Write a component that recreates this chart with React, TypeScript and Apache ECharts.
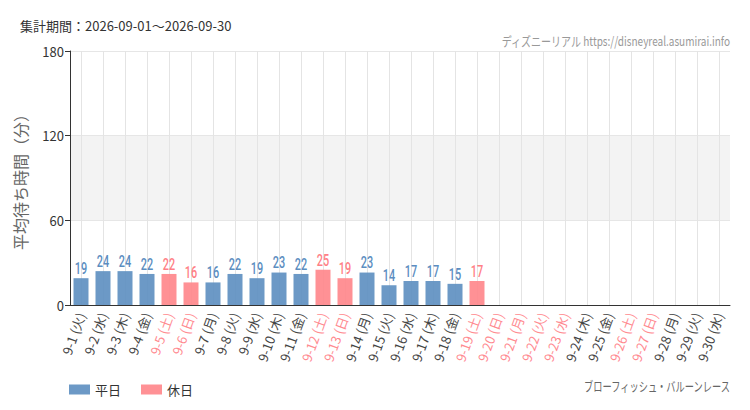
import React, { useEffect, useRef } from "react";
import * as echarts from "echarts";

// 2026年9月 各日
const days = [
  "9-1", "9-2", "9-3", "9-4", "9-5", "9-6", "9-7", "9-8", "9-9", "9-10",
  "9-11", "9-12", "9-13", "9-14", "9-15", "9-16", "9-17", "9-18", "9-19", "9-20",
  "9-21", "9-22", "9-23", "9-24", "9-25", "9-26", "9-27", "9-28", "9-29", "9-30",
];
const weekdays = [
  "火", "水", "木", "金", "土", "日", "月", "火", "水", "木",
  "金", "土", "日", "月", "火", "水", "木", "金", "土", "日",
  "月", "火", "水", "木", "金", "土", "日", "月", "火", "水",
];
// true = 休日 (土日祝)
const holidays = [
  false, false, false, false, true, true, false, false, false, false,
  false, true, true, false, false, false, false, false, true, true,
  true, true, true, false, false, true, true, false, false, false,
];
// 平均待ち時間（分）、未集計は null
const waitTimes: (number | null)[] = [
  19, 24, 24, 22, 22, 16, 16, 22, 19, 23,
  22, 25, 19, 23, 14, 17, 17, 15, 17, null,
  null, null, null, null, null, null, null, null, null, null,
];
const yTicks = [0, 60, 120, 180];

const BLUE = "#5c8ec0";
const PINK = "#ff858a";
const BLUE_TXT = "#5b8dc0";
const PINK_TXT = "#ff7f86";
const JP = "'Noto Sans CJK JP', 'Noto Sans', sans-serif";

const App: React.FC = () => {
  const chartRef = useRef<HTMLDivElement>(null);

  useEffect(() => {
    document.body.style.margin = "0";
    if (!chartRef.current) return;
    const chart = echarts.init(chartRef.current, undefined, { renderer: "svg" });

    const categories = days.map((d, i) => `${d} (${weekdays[i]})`);
    const weekdayData = waitTimes.map((v, i) => (holidays[i] ? null : v));
    const holidayData = waitTimes.map((v, i) => (holidays[i] ? v : null));
    const labelData = waitTimes
      .map((v, i) => [i, v])
      .filter((d) => d[1] !== null);

    const option: echarts.EChartsOption = {
      animation: false,
      backgroundColor: "#ffffff",
      textStyle: { fontFamily: JP },
      grid: { left: 70, right: 20, top: 51, bottom: 105 },
      graphic: [
        {
          type: "text",
          left: 20,
          top: 19,
          style: {
            text: "集計期間：2026-09-01～2026-09-30",
            fill: "#333",
            font: `13px ${JP}`,
          },
        },
        {
          type: "text",
          x: 730,
          y: 40,
          scaleX: 0.77,
          style: {
            text: "ディズニーリアル https://disneyreal.asumirai.info",
            fill: "#999",
            font: `13px ${JP}`,
            textAlign: "right",
            textVerticalAlign: "middle",
          } as any,
        },
        {
          type: "text",
          x: 730,
          y: 385,
          scaleX: 0.71,
          style: {
            text: "ブローフィッシュ・バルーンレース",
            fill: "#666",
            font: `13px ${JP}`,
            textAlign: "right",
            textVerticalAlign: "middle",
          } as any,
        },
      ],
      legend: {
        left: 64,
        top: 378,
        itemWidth: 21,
        itemHeight: 10,
        itemGap: 20,
        icon: "rect",
        textStyle: { color: "#333", fontSize: 13, fontFamily: JP },
        data: ["平日", "休日"],
      },
      xAxis: {
        type: "category",
        data: categories,
        axisLine: { lineStyle: { color: "#333" } },
        axisTick: { alignWithLabel: true, length: 5, lineStyle: { color: "#333" } },
        splitLine: {
          show: true,
          alignWithLabel: true,
          lineStyle: { color: "#e4e4e4" },
        } as any,
        axisLabel: {
          rotate: 70,
          fontSize: 13,
          margin: 8,
          fontFamily: JP,
          interval: 0,
          color: ((_v: string, i: number) => (holidays[i] ? "#ff8a90" : "#444")) as any,
        },
      },
      yAxis: {
        type: "value",
        min: yTicks[0],
        max: yTicks[yTicks.length - 1],
        interval: yTicks[1] - yTicks[0],
        name: "平均待ち時間（分）",
        nameLocation: "middle",
        nameGap: 42,
        nameTextStyle: { color: "#666", fontSize: 16, fontFamily: JP },
        axisLine: { show: true, lineStyle: { color: "#333" } },
        axisTick: { show: true, length: 5, lineStyle: { color: "#333" } },
        axisLabel: { color: "#333", fontSize: 13, margin: 6 },
        splitLine: { lineStyle: { color: "#e6e6e6" } },
        splitArea: {
          show: true,
          areaStyle: { color: ["rgba(255,255,255,0)", "#f3f3f3", "rgba(255,255,255,0)"] },
        },
      },
      series: [
        {
          name: "平日",
          type: "bar",
          data: weekdayData,
          barWidth: 15,
          barGap: "-100%",
          itemStyle: { color: BLUE, opacity: 0.9 },
        },
        {
          name: "休日",
          type: "bar",
          data: holidayData,
          barWidth: 15,
          barGap: "-100%",
          itemStyle: { color: PINK, opacity: 0.9 },
        },
        {
          // narrow value labels above the bars
          name: "labels",
          type: "custom",
          data: labelData,
          z: 5,
          renderItem: (_params: any, api: any) => {
            const idx = api.value(0);
            const v = api.value(1);
            const pt = api.coord([idx, v]);
            return {
              type: "text",
              x: pt[0],
              y: pt[1] - 2,
              scaleX: 0.68,
              style: {
                text: String(v),
                fill: holidays[idx] ? PINK_TXT : BLUE_TXT,
                font: "500 16px Roboto, sans-serif",
                textAlign: "center",
                textVerticalAlign: "bottom",
              },
            };
          },
        } as any,
      ],
    };

    chart.setOption(option);
    return () => chart.dispose();
  }, []);

  return <div ref={chartRef} style={{ width: 750, height: 410 }} />;
};

export default App;
